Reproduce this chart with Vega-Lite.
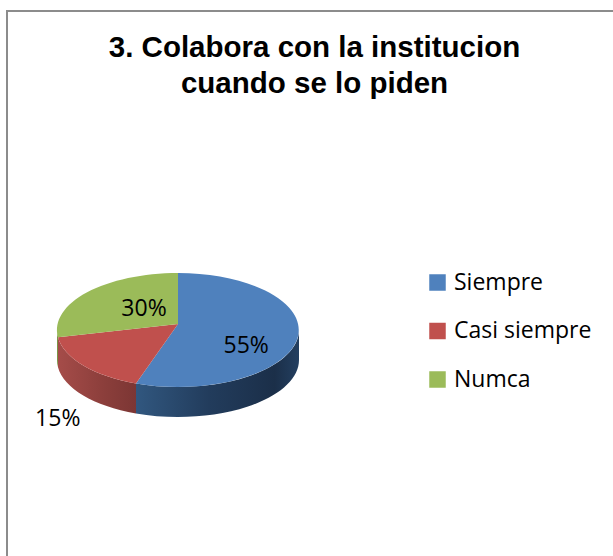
{
"$schema":"https://vega.github.io/schema/vega-lite/v6.json",
"autosize":{"type":"none"},
"padding":{"left":7,"top":11,"right":0,"bottom":0},
"width":607,"height":546,
"background":"white",
"view":{"stroke":"#8c8c8c","strokeWidth":2,"fill":"white"},
"title":{"text":["3. Colabora con la institucion","cuando se lo piden"],"font":"Liberation Sans","fontSize":29.5,"fontWeight":"bold","color":"#000000","anchor":"middle","frame":"group","dx":4,"baseline":"top","offset":-88,"lineHeight":36},
"data":{"values":[
{"respuesta":"Siempre","valor":0.55,"orden":1},
{"respuesta":"Casi siempre","valor":0.15,"orden":2},
{"respuesta":"Numca","valor":0.30,"orden":3}
]},
"transform":[
{"stack":"valor","groupby":[],"sort":[{"field":"orden"}],"as":["ini","fin"]},
{"calculate":"(datum.ini+datum.fin)/2","as":"medio"}
],
"encoding":{
"x":{"datum":0,"type":"quantitative","scale":{"domain":[-171,436]},"axis":null},
"y":{"datum":0,"type":"quantitative","scale":{"domain":[-227,319]},"axis":null}
},
"layer":[
{"transform":[{"filter":"datum.orden==1"}],
"mark":{"type":"point","opacity":1,"size":4,"strokeWidth":0,"shape":"M121,0A121,57 0 0 1 -42,53.5L-42,83.5A121,57 0 0 0 121,30Z",
"fill":{"gradient":"linear","x1":0,"x2":1,"y1":0,"y2":0,"stops":[{"offset":0,"color":"#31577f"},{"offset":0.45,"color":"#223c5c"},{"offset":0.85,"color":"#1b2f49"},{"offset":1,"color":"#233f60"}]}}},
{"transform":[{"filter":"datum.orden==2"}],
"mark":{"type":"point","opacity":1,"size":4,"strokeWidth":0,"shape":"M-42,53.5A121,57 0 0 1 -120,7.3L-120,37.3A121,57 0 0 0 -42,83.5Z",
"fill":{"gradient":"linear","x1":0,"x2":1,"y1":0,"y2":0,"stops":[{"offset":0,"color":"#a54c49"},{"offset":0.6,"color":"#8b3e3b"},{"offset":1,"color":"#7c3634"}]}}},
{"transform":[{"filter":"datum.orden==3"}],
"mark":{"type":"point","opacity":1,"size":4,"strokeWidth":0,"shape":"M-120,7.3A121,57 0 0 1 -121,0L-121,30A121,57 0 0 0 -120,37.3Z","fill":"#7a9446"}},
{"mark":{"type":"point","filled":true,"opacity":1,"size":4},
"encoding":{
"shape":{"field":"orden","type":"nominal","legend":null,"scale":{"domain":[1,2,3],"range":["M0,-6L0,-57A121,57 0 1 1 -42,53.5Z","M0,-6L-42,53.5A121,57 0 0 1 -120,7.3Z","M0,-6L-120,7.3A121,57 0 0 1 0,-57Z"]}},
"color":{"field":"respuesta","type":"nominal","scale":{"domain":["Siempre","Casi siempre","Numca"],"range":["#4f81bd","#c0504d","#9bbb59"]},
"legend":{"orient":"none","legendX":419,"legendY":260,"title":null,"symbolType":"square","symbolSize":272,"symbolOpacity":1,"labelFont":"Open Sans","labelFontSize":23,"labelColor":"#000000","labelOffset":5,"rowPadding":24.5,"padding":0,"labelLimit":200}}
}},
{"transform":[{"filter":"datum.orden==1"}],
"mark":{"type":"text","font":"Open Sans","fontSize":23,"color":"#000000","radius":69,"dy":5,"align":"center","baseline":"middle"},
"encoding":{"theta":{"field":"medio","type":"quantitative","scale":{"domain":[0,1]}},"text":{"field":"valor","type":"quantitative","format":".0%"}}},
{"transform":[{"filter":"datum.orden==2"}],
"mark":{"type":"text","font":"Open Sans","fontSize":23,"color":"#000000","radius":146,"dx":-17,"dy":-14,"align":"center","baseline":"middle"},
"encoding":{"theta":{"field":"medio","type":"quantitative","scale":{"domain":[0,1]}},"text":{"field":"valor","type":"quantitative","format":".0%"}}},
{"transform":[{"filter":"datum.orden==3"}],
"mark":{"type":"text","font":"Open Sans","fontSize":23,"color":"#000000","radius":42,"dy":4,"align":"center","baseline":"middle"},
"encoding":{"theta":{"field":"medio","type":"quantitative","scale":{"domain":[0,1]}},"text":{"field":"valor","type":"quantitative","format":".0%"}}}
]
}
